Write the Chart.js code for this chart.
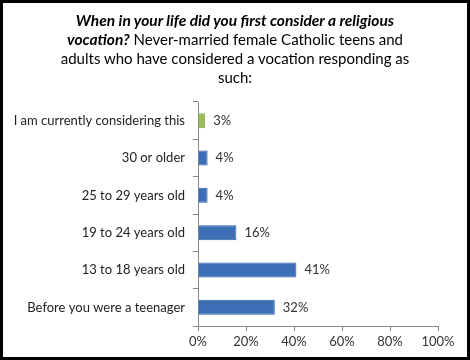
<!DOCTYPE html>
<html><head><meta charset="utf-8">
<script src="https://cdn.jsdelivr.net/npm/chart.js@4"></script>
<style>
html,body{margin:0;padding:0;background:#fff;}
#wrap{position:relative;width:470px;height:360px;box-sizing:border-box;border:3px solid #000;background:#fff;overflow:hidden;}
#title{position:absolute;left:0;top:8px;width:464px;text-align:center;font-family:Lato,"Open Sans",sans-serif;font-size:15px;line-height:19px;color:#000;}
#title b{font-style:italic;font-weight:bold;font-size:15.5px;}
canvas{position:absolute;left:0;top:0;}
</style></head>
<body>
<div id="wrap">
<canvas id="c" width="464" height="354"></canvas>
<div id="title"><b>When in your life did you first consider a religious<br>vocation?</b> Never-married female Catholic teens and<br>adults who have considered a vocation responding as<br>such:</div>
</div>
<script>
const categories = ["I am currently considering this","30 or older","25 to 29 years old","19 to 24 years old","13 to 18 years old","Before you were a teenager"];
const values = [3,4,4,16,41,32];
const xTicks = [0,20,40,60,80,100];

const FONT = 'Lato, "Open Sans", sans-serif';
const labelPlugin = {
  id:'barLabels',
  afterDatasetsDraw(chart){
    const ctx = chart.ctx;
    const meta = chart.getDatasetMeta(0);
    ctx.save();
    ctx.font = '13px ' + FONT;
    ctx.fillStyle = '#333';
    ctx.textBaseline = 'middle';
    ctx.textAlign = 'left';
    meta.data.forEach((bar,i)=>{
      ctx.fillText(values[i] + '%', bar.x + 8, bar.y);
    });
    ctx.restore();
  }
};

new Chart(document.getElementById('c'),{
  type:'bar',
  data:{labels:categories,datasets:[{data:values,
    backgroundColor:(c)=>c.dataIndex===0?'#9bbb59':'#3c6fb6',
    borderColor:(c)=>c.dataIndex===0?'#8aaa4c':'#2f5e9f',
    borderWidth:1,
    barPercentage:0.40,categoryPercentage:1}]},
  options:{
    indexAxis:'y',
    responsive:false,animation:false,
    layout:{padding:{top:99,right:29,left:0,bottom:0}},
    plugins:{legend:{display:false},tooltip:{enabled:false}},
    scales:{
      x:{min:0,max:100,
        afterBuildTicks:(s)=>{s.ticks = xTicks.map(v=>({value:v}));},
        afterFit:(s)=>{s.height=31;},
        ticks:{callback:(v)=>v+'%',font:{family:FONT,size:13},color:'#333',padding:3,maxRotation:0},
        grid:{drawOnChartArea:false,color:'#888',tickLength:5},
        border:{color:'#888'}},
      y:{
        afterFit:(s)=>{s.width=195;},
        ticks:{font:{family:FONT,size:13},color:'#222',padding:8},
        grid:{drawOnChartArea:false,color:'#888',tickLength:5,offset:true},
        border:{color:'#888'}}
    }
  },
  plugins:[labelPlugin]
});
</script>
</body></html>
